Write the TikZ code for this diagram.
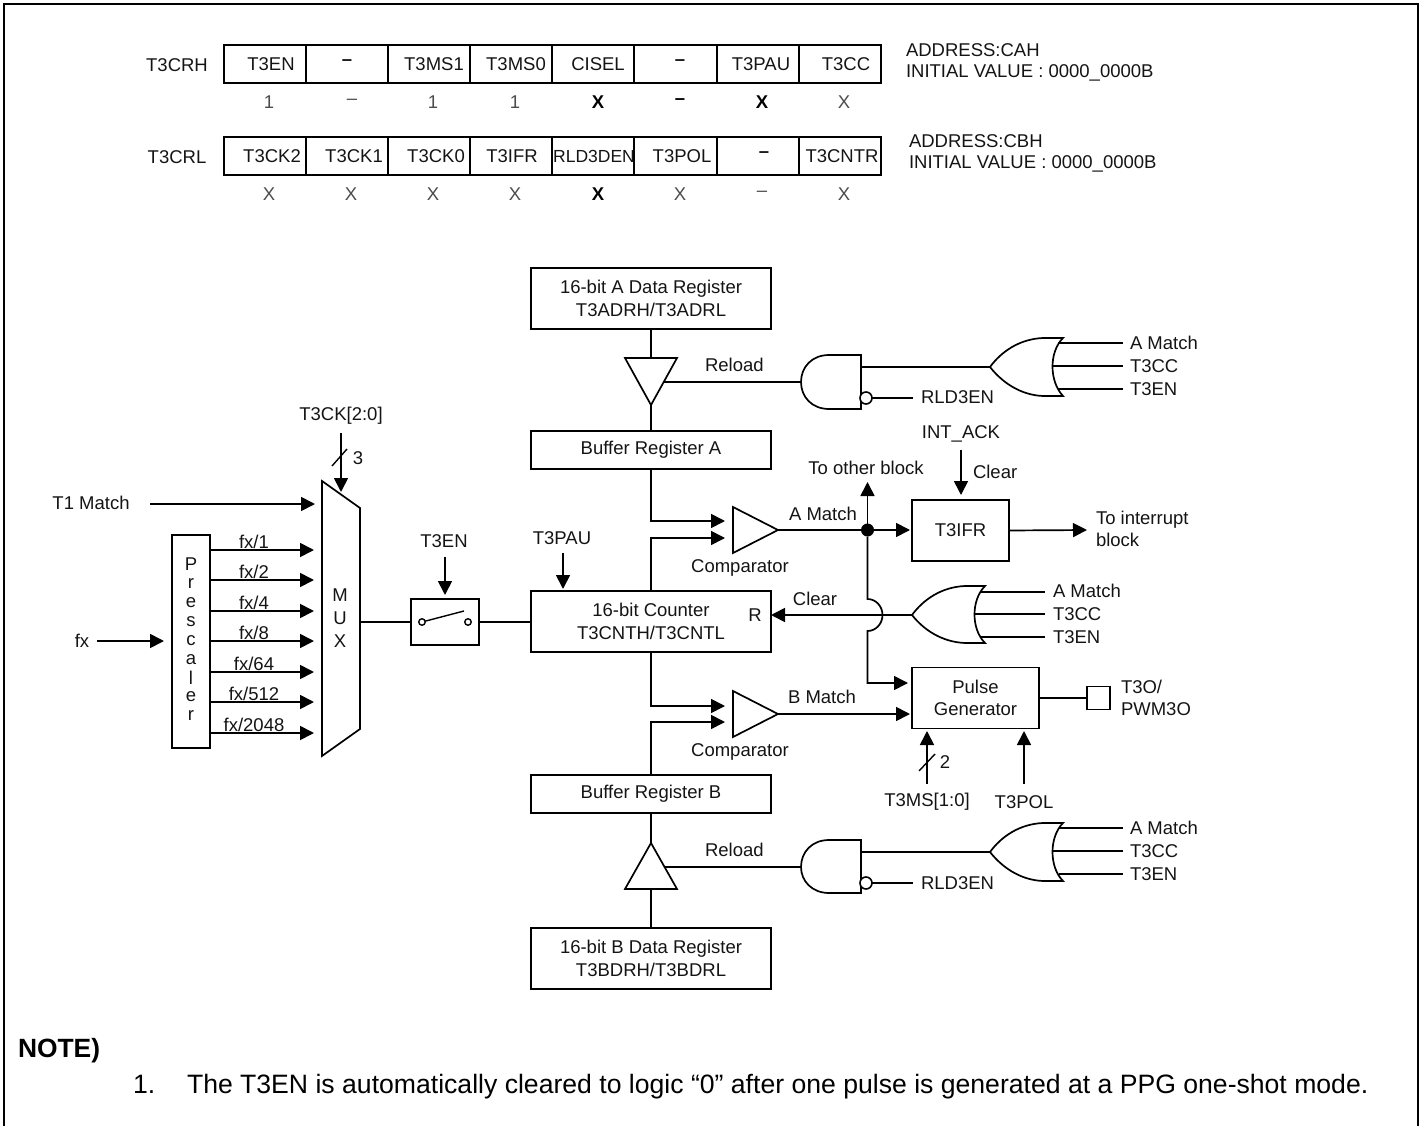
\documentclass[tikz,border=0pt]{standalone}
\usepackage{fontspec}
\setmainfont{Liberation Sans}
\usetikzlibrary{arrows.meta,calc}
\newcommand{\bodyfs}{\fontsize{18.5}{22.5}\selectfont}
\tikzset{
  x=1pt,y=-1pt,
  every node/.style={inner sep=0pt,outer sep=0pt},
  txt/.style={font=\bodyfs,align=center,text=black!92},
  ltxt/.style={txt,anchor=west,align=left},
  valt/.style={font=\fontsize{18.5}{20}\selectfont,text=black!70},
  valb/.style={font=\fontsize{18.5}{20}\selectfont\bfseries,text=black},
  dashb/.style={txt,font=\fontsize{18.5}{20}\selectfont\bfseries},
  regbox/.style={draw,line width=1.9pt,minimum height=38pt,anchor=north west},
  blockbox/.style={draw,line width=1.8pt,anchor=north west,txt},
  wire/.style={draw,line width=1.7pt},
  gate/.style={draw,line width=1.7pt,fill=white,line join=miter},
  arrow/.style={wire,-{Triangle[length=14pt,width=14pt]}},
  bubble/.style={circle,draw,line width=1.6pt,minimum size=12pt,fill=white},
  dotnode/.style={circle,fill=black,minimum size=13pt},
  notef/.style={anchor=base west,font=\fontsize{26.6}{30}\selectfont},
}
\begin{document}
\begin{tikzpicture}
\useasboundingbox (0,0) rectangle (1419,1126);
% outer frame (open at the bottom edge)
\coordinate (fbl) at (4,1126); \coordinate (ftl) at (4,4); \coordinate (ftr) at (1417.5,4); \coordinate (fbr) at (1417.5,1126);
\draw[line width=2pt] (fbl) -- (ftl) -- (ftr) -- (fbr);

% ---- register tables
\foreach \nm/\xa/\w/\ya in {h1/224/82/45,h2/306/82/45,h3/388/82/45,h4/470/82/45,h5/552/82/45,h6/634/83/45,h7/717/82/45,h8/799/82/45,
  l1/224/82/137,l2/306/82/137,l3/388/82/137,l4/470/82/137,l5/552/82/137,l6/634/83/137,l7/717/82/137,l8/799/82/137}
  \node[regbox,minimum width=\w pt] (\nm) at (\xa,\ya) {};
\node[txt] (rh) at (177,65) {T3CRH};
\node[txt] (rl) at (177,157) {T3CRL};
\foreach \nm/\xa/\s in {a1/271/T3EN,a3/434/T3MS1,a4/516/T3MS0,a5/598/CISEL,a7/761/T3PAU,a8/846/T3CC}
  \node[txt] (\nm) at (\xa,64) {\s};
\node[dashb] (a2) at (347,63) {--};
\node[dashb] (a6) at (680,63) {--};
\foreach \nm/\xa/\s in {b1/272/T3CK2,b2/354/T3CK1,b3/436/T3CK0,b4/512/T3IFR,b6/682/T3POL,b8/842/T3CNTR}
  \node[txt] (\nm) at (\xa,156) {\s};
\node[txt,font=\fontsize{17.5}{20}\selectfont] (b5) at (594,156) {RLD3DEN};
\node[dashb] (b7) at (764,155) {--};
\foreach \nm/\xa in {v1/269,v3/433,v4/515} \node[valt] (\nm) at (\xa,102) {1};
\node[valt] (v2) at (352,102) {--};
\node[valb] (v5) at (598,102) {X};
\node[valb] (v6) at (680,102) {--};
\node[valb] (v7) at (762,102) {X};
\node[valt] (v8) at (844,102) {X};
\foreach \nm/\xa in {w1/269,w2/351,w3/433,w4/515,w6/680,w8/844} \node[valt] (\nm) at (\xa,194) {X};
\node[valb] (w5) at (598,194) {X};
\node[valt] (w7) at (762,194) {--};
\node[ltxt] (adh) at (906,50) {ADDRESS:CAH};
\node[ltxt] (ivh) at (906,73) {INITIAL VALUE : 0000\_0000B};
\node[ltxt] (adl) at (909,141) {ADDRESS:CBH};
\node[ltxt] (ivl) at (909,164) {INITIAL VALUE : 0000\_0000B};

% ---- central column
\node[blockbox,minimum width=240pt,minimum height=61pt] (adr) at (531,268) {16-bit A Data Register\\T3ADRH/T3ADRL};
\node[blockbox,minimum width=240pt,minimum height=38pt] (bufa) at (531,431) {Buffer Register A};
\node[blockbox,minimum width=240pt,minimum height=61pt] (ctr) at (531,591) {16-bit Counter\\T3CNTH/T3CNTL};
\node[blockbox,minimum width=240pt,minimum height=38pt] (bufb) at (531,775) {Buffer Register B};
\node[blockbox,minimum width=240pt,minimum height=61pt] (bdr) at (531,928) {16-bit B Data Register\\T3BDRH/T3BDRL};
\node[txt] (rlab) at (755,615) {R};

% reload buffers
\coordinate (tat) at (651,358); \coordinate (tab) at (651,405);
\coordinate (tbt) at (651,843); \coordinate (tbb) at (651,889);
\draw[wire] (adr.south) -- (tat);
\draw[wire] (tab) -- (bufa.north);
\draw[wire] (bufb.south) -- (tbt);
\draw[wire] (tbb) -- (bdr.north);
\draw[gate] (625,358) -- (677,358) -- (tab) -- cycle;
\draw[gate] (tbt) -- (677,889) -- (625,889) -- cycle;

% top gate group
\coordinate (ra) at (664,382); \coordinate (aa) at (801,382);
\coordinate (oa) at (861,367); \coordinate (ta) at (990,367);
\draw[wire] (ra) -- (aa);
\draw[wire] (oa) -- (ta);
\draw[gate] (861,355) -- (829,355) .. controls (812,355) and (801,367) .. (801,382) .. controls (801,397) and (812,409) .. (829,409) -- (861,409) -- cycle;
\node[bubble] (ba) at (866,398) {};
\coordinate (ea) at (913,398);
\draw[wire] (ba) -- (ea);
\node[ltxt] (rela) at (705,365) {Reload};
\node[ltxt] (rlda) at (921,397) {RLD3EN};
\coordinate (ia1) at (1123,343); \coordinate (ia2) at (1123,366); \coordinate (ia3) at (1123,389);
\coordinate (ja1) at (1058,343); \coordinate (ja2) at (1052,366); \coordinate (ja3) at (1058,389);
\draw[wire] (ja1) -- (ia1); \draw[wire] (ja2) -- (ia2); \draw[wire] (ja3) -- (ia3);
\draw[gate,fill=none] (1063,338) -- (1043,338) .. controls (1019,339) and (1001,352) .. (990,367) .. controls (1001,381) and (1019,395) .. (1043,396) -- (1063,396) .. controls (1049,381) and (1049,352) .. (1063,338) -- cycle;
\node[ltxt] (la1) at (1130,343) {A Match};
\node[ltxt] (la2) at (1130,366) {T3CC};
\node[ltxt] (la3) at (1130,389) {T3EN};

% bottom gate group
\coordinate (rb) at (664,867); \coordinate (ab) at (801,867);
\coordinate (ob) at (861,852); \coordinate (tb) at (990,852);
\draw[wire] (rb) -- (ab);
\draw[wire] (ob) -- (tb);
\draw[gate] (861,840) -- (829,840) .. controls (812,840) and (801,852) .. (801,867) .. controls (801,881) and (812,893) .. (829,893) -- (861,893) -- cycle;
\node[bubble] (bb) at (866,883) {};
\coordinate (eb) at (913,883);
\draw[wire] (bb) -- (eb);
\node[ltxt] (relb) at (705,850) {Reload};
\node[ltxt] (rldb) at (921,883) {RLD3EN};
\coordinate (ib1) at (1123,828); \coordinate (ib2) at (1123,851); \coordinate (ib3) at (1123,874);
\coordinate (jb1) at (1059,828); \coordinate (jb2) at (1053,851); \coordinate (jb3) at (1059,874);
\draw[wire] (jb1) -- (ib1); \draw[wire] (jb2) -- (ib2); \draw[wire] (jb3) -- (ib3);
\draw[gate,fill=none] (1063,823) -- (1043,823) .. controls (1019,824) and (1001,837) .. (990,852) .. controls (1001,866) and (1019,880) .. (1043,881) -- (1063,881) .. controls (1049,867) and (1049,837) .. (1063,823) -- cycle;
\node[ltxt] (lb1) at (1130,828) {A Match};
\node[ltxt] (lb2) at (1130,851) {T3CC};
\node[ltxt] (lb3) at (1130,874) {T3EN};

% comparator A
\coordinate (c1a) at (651,521); \coordinate (c1b) at (725,521);
\coordinate (c2a) at (651,538); \coordinate (c2b) at (725,538);
\draw[arrow] (bufa.south) -- (c1a) -- (c1b);
\draw[arrow] (ctr.north -| c2a) -- (c2a) -- (c2b);
\draw[gate] (733,507) -- (778,530) -- (733,553) -- cycle;
\node[txt] (cmpa) at (740,568) {Comparator};
\node[txt] (ama) at (823,514) {A Match};
\node[blockbox,minimum width=97pt,minimum height=61pt] (ifr) at (912,500) {T3IFR};
\coordinate (cao) at (778,530);
\node[dotnode] (dot) at (867.5,530) {};
\draw[wire] (cao) -- (dot);
\coordinate (ifrt) at (910,530);
\draw[arrow] (dot) -- (ifrt);
\coordinate (oth) at (867.5,482);
\draw[arrow] (dot) -- (oth);
\node[txt] (otxt) at (866,468) {To other block};
\coordinate (ack) at (961,450); \coordinate (ackh) at (961,495);
\draw[arrow] (ack) -- (ackh);
\node[txt] (iack) at (961,434) {INT\_ACK};
\node[ltxt] (clra) at (973,472) {Clear};
\coordinate (intr) at (1087,530);
\draw[arrow] (ifr.east) -- (intr);
\node[ltxt] (itxt) at (1096,529) {To interrupt\\block};

% middle OR + clear
\coordinate (ctrr) at (771,615);
\coordinate (ort) at (912,615);
\draw[arrow] (ort) -- (ctrr);
\node[txt] (clrb) at (815,599) {Clear};
\coordinate (im1) at (1045,592); \coordinate (im2) at (1045,614); \coordinate (im3) at (1045,637);
\coordinate (jm1) at (980,592); \coordinate (jm2) at (975,614); \coordinate (jm3) at (980,637);
\draw[wire] (jm1) -- (im1); \draw[wire] (jm2) -- (im2); \draw[wire] (jm3) -- (im3);
\draw[gate,fill=none] (985,586) -- (965,586) .. controls (941,587) and (923,600) .. (912,615) .. controls (923,629) and (941,642) .. (965,643) -- (985,643) .. controls (971,629) and (971,600) .. (985,586) -- cycle;
\node[ltxt] (lm1) at (1053,591) {A Match};
\node[ltxt] (lm2) at (1053,614) {T3CC};
\node[ltxt] (lm3) at (1053,637) {T3EN};

% line with hop from the junction to pulse generator
\node[blockbox,minimum width=127pt,minimum height=61pt] (pg) at (912,667.5) {Pulse\\Generator};
\coordinate (pgb) at (908,683);
\draw[arrow] (dot) -- (867.5,599) arc[start angle=-90,end angle=90,x radius=15pt,y radius=-16pt] -- (867.5,683) -- (pgb);

% comparator B
\coordinate (d1a) at (651,706); \coordinate (d1b) at (725,706);
\coordinate (d2a) at (651,722); \coordinate (d2b) at (725,722);
\draw[arrow] (ctr.south) -- (d1a) -- (d1b);
\draw[arrow] (bufb.north) -- (d2a) -- (d2b);
\draw[gate] (733,691) -- (778,714) -- (733,737) -- cycle;
\node[txt] (cmpb) at (740,752) {Comparator};
\node[txt] (bma) at (822,697) {B Match};
\coordinate (cbo) at (778,714); \coordinate (pgm) at (910,714);
\draw[arrow] (cbo) -- (pgm);

% pulse generator outputs
\node[draw,line width=1.7pt,minimum width=23pt,minimum height=23pt,anchor=north west] (pad) at (1087,686.5) {};
\draw[wire] (pg.east) -- (pad.west);
\node[ltxt] (pwm) at (1121,698) {T3O/\\PWM3O};
\coordinate (ms) at (927,784); \coordinate (msh) at (927,731);
\draw[arrow] (ms) -- (msh);
\coordinate (po) at (1024,784); \coordinate (poh) at (1024,731);
\draw[arrow] (po) -- (poh);
\coordinate (sl2a) at (919,771); \coordinate (sl2b) at (935,754);
\draw[line width=1.4pt] (sl2a) -- (sl2b);
\node[txt] (two) at (945,762) {2};
\node[txt] (mstx) at (927,802) {T3MS[1:0]};
\node[txt] (potx) at (1024,802) {T3POL};

% T3PAU
\coordinate (pau) at (563,553); \coordinate (pauh) at (563,589);
\draw[arrow] (pau) -- (pauh);
\node[txt] (pautx) at (562,538) {T3PAU};

% switch
\node[draw,line width=1.7pt,minimum width=68pt,minimum height=46pt,anchor=north west] (sw) at (411,599) {};
\node[circle,draw,line width=1.4pt,minimum size=6.5pt] (s1) at (422,622) {};
\node[circle,draw,line width=1.4pt,minimum size=6.5pt] (s2) at (468,622) {};
\coordinate (lev) at (464,611);
\draw[line width=1.4pt] (s1) -- (lev);
\coordinate (swin) at (411,622); \coordinate (swout) at (479,622);
\coordinate (mo) at (360,622);
\draw[wire] (mo) -- (swin);
\draw[wire] (swout) -- (swout -| ctr.west);
\node[txt] (swt) at (444,541) {T3EN};
\coordinate (swa) at (445,557); \coordinate (swh) at (445,595);
\draw[arrow] (swa) -- (swh);

% MUX
\draw[gate] (322,481) -- (360,508) -- (360,729) -- (322,756) -- cycle;
\foreach \nm/\ya/\s in {mm/595/M,mu/618/U,mx/641/X} \node[txt] (\nm) at (340,\ya) {\s};
\coordinate (cks) at (341,433); \coordinate (cke) at (341,492);
\draw[arrow] (cks) -- (cke);
\coordinate (sl3a) at (332,466); \coordinate (sl3b) at (347,449);
\draw[line width=1.4pt] (sl3a) -- (sl3b);
\node[txt] (ckt) at (341,416) {T3CK[2:0]};
\node[txt] (three) at (358,458) {3};
\node[txt] (t1m) at (91,503) {T1 Match};
\coordinate (t1s) at (150,504); \coordinate (t1e) at (315,504);
\draw[arrow] (t1s) -- (t1e);

% prescaler
\node[draw,line width=1.7pt,minimum width=38pt,minimum height=213pt,anchor=north west] (pre) at (172,535) {};
\foreach \nm/\ya/\s in {p1/564/P,p2/584/r,p3/603/e,p4/622/s,p5/641/c,p6/660/a,p7/678/l,p8/697/e,p9/716/r}
  \node[txt] (\nm) at (191,\ya) {\s};
\foreach \nm/\ya/\s in {f1/550/fx\slash 1,f2/580/fx\slash 2,f3/611/fx\slash 4,f4/641/fx\slash 8,f5/672/fx\slash 64,f6/702/fx\slash 512,f7/733/fx\slash 2048}{
  \coordinate (\nm e) at (314,\ya);
  \draw[arrow] (\nm e -| pre.east) -- (\nm e);
  \node[txt,anchor=base] (\nm t) at (254,\ya-2) {\s};
}
\node[txt] (fxt) at (82,641) {fx};
\coordinate (fxs) at (97,641); \coordinate (fxe) at (164,641);
\draw[arrow] (fxs) -- (fxe);

% note
\node[notef,font=\fontsize{26.4}{30}\selectfont\bfseries] (nt) at (18,1057) {NOTE)};
\node[notef] (n1) at (133,1093) {1.};
\node[notef] (n2) at (187,1093) {The T3EN is automatically cleared to logic “0” after one pulse is generated at a PPG one-shot mode.};
\end{tikzpicture}
\end{document}
